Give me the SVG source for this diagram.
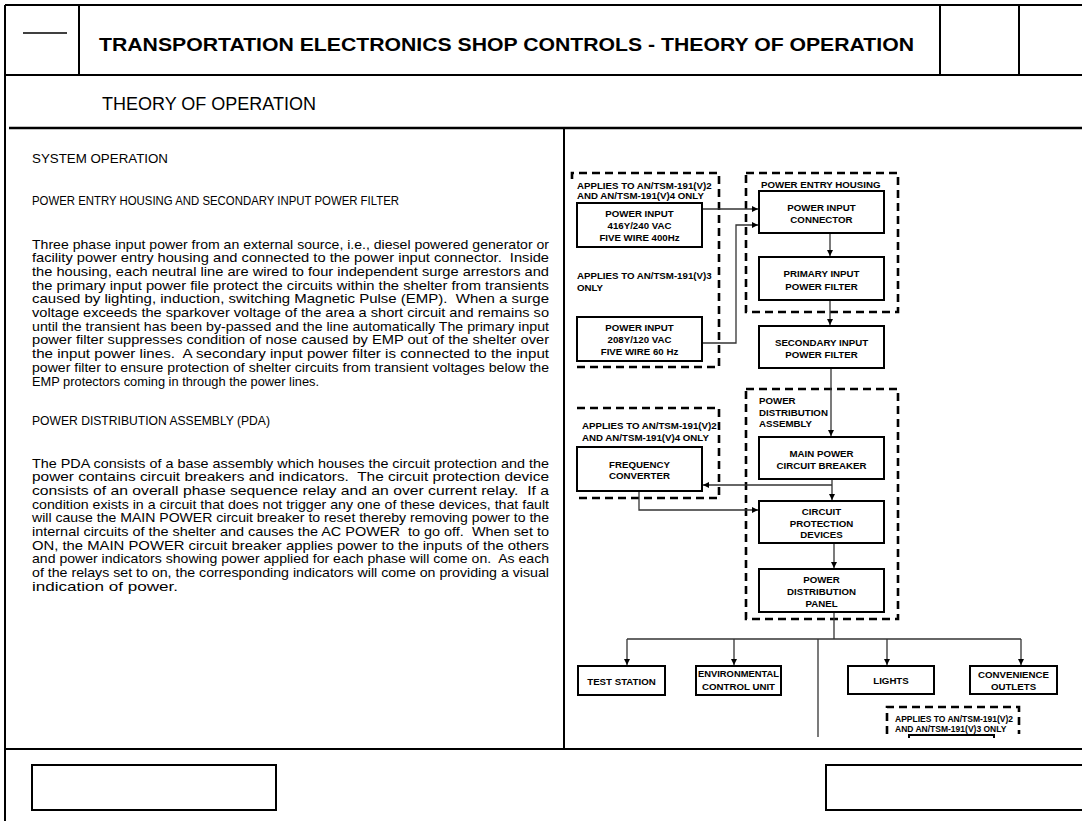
<svg xmlns="http://www.w3.org/2000/svg" width="1082" height="821" viewBox="0 0 1082 821">
<defs>
<style>
.frame{stroke:#000;stroke-width:2;fill:none}
.thin{stroke:#000;stroke-width:1.3;fill:none}
.dash{stroke:#000;stroke-width:2.6;fill:none;stroke-dasharray:8 5}
.box{stroke:#000;stroke-width:2;fill:#fff}
.conn{stroke:#333;stroke-width:1.3;fill:none}
.bt{font-family:"Liberation Sans",Arial,sans-serif;font-weight:bold;font-size:9.7px;fill:#000;text-anchor:middle}
.lab{font-family:"Liberation Sans",Arial,sans-serif;font-weight:bold;font-size:9.7px;fill:#000}
.lab2{font-family:"Liberation Sans",Arial,sans-serif;font-weight:bold;font-size:8.5px;fill:#000}
.body{font-family:"Liberation Sans",Arial,sans-serif;font-size:13.5px;fill:#000;white-space:pre}
.title{font-family:"Liberation Sans",Arial,sans-serif;font-weight:bold;font-size:18px;fill:#000}
.sub{font-family:"Liberation Sans",Arial,sans-serif;font-size:17.5px;fill:#000}
</style>
<marker id="ah" viewBox="0 0 10 10" refX="10" refY="5" markerWidth="6" markerHeight="6" markerUnits="userSpaceOnUse" orient="auto">
<path d="M0,0 L10,5 L0,10 z" fill="#000"/>
</marker>
</defs>
<rect width="1082" height="821" fill="#fff"/>

<g id="frame">
<line class="frame" x1="5" y1="5" x2="1082" y2="5"/>
<line class="frame" x1="5" y1="5" x2="5" y2="821"/>
<line class="frame" x1="79" y1="5" x2="79" y2="75"/>
<line class="frame" x1="940" y1="5" x2="940" y2="75"/>
<line class="frame" x1="1019" y1="5" x2="1019" y2="75"/>
<line class="frame" x1="5" y1="75" x2="1082" y2="75"/>
<line class="thin" x1="23" y1="33" x2="67" y2="33"/>
<line class="frame" x1="9" y1="128" x2="1082" y2="128" style="stroke-width:2.5"/>
<line class="frame" x1="564" y1="128" x2="564" y2="749"/>
<line class="frame" x1="5" y1="749" x2="1082" y2="749"/>
<rect class="frame" x="32" y="765" width="244" height="45"/>
<path class="frame" d="M1082,765 H826 V810 H1082"/>
<text class="title" x="99" y="50.5" textLength="815" lengthAdjust="spacingAndGlyphs">TRANSPORTATION ELECTRONICS SHOP CONTROLS - THEORY OF OPERATION</text>
<text class="sub" x="102" y="110" textLength="214" lengthAdjust="spacingAndGlyphs">THEORY OF OPERATION</text>
</g>

<g id="body-text">
<text class="body" x="32" y="162.5" textLength="136" lengthAdjust="spacingAndGlyphs">SYSTEM OPERATION</text>
<text class="body" x="32" y="204.5" textLength="367" lengthAdjust="spacingAndGlyphs">POWER ENTRY HOUSING AND SECONDARY INPUT POWER FILTER</text>
<text class="body" x="32" y="248.5" textLength="517" lengthAdjust="spacingAndGlyphs">Three phase input power from an external source, i.e., diesel powered generator or</text>
<text class="body" x="32" y="262.2" textLength="517" lengthAdjust="spacingAndGlyphs">facility power entry housing and connected to the power input connector.  Inside</text>
<text class="body" x="32" y="275.9" textLength="517" lengthAdjust="spacingAndGlyphs">the housing, each neutral line are wired to four independent surge arrestors and</text>
<text class="body" x="32" y="289.6" textLength="517" lengthAdjust="spacingAndGlyphs">the primary input power file protect the circuits within the shelter from transients</text>
<text class="body" x="32" y="303.3" textLength="517" lengthAdjust="spacingAndGlyphs">caused by lighting, induction, switching Magnetic Pulse (EMP).  When a surge</text>
<text class="body" x="32" y="317" textLength="517" lengthAdjust="spacingAndGlyphs">voltage exceeds the sparkover voltage of the area a short circuit and remains so</text>
<text class="body" x="32" y="330.7" textLength="517" lengthAdjust="spacingAndGlyphs">until the transient has been by-passed and the line automatically The primary input</text>
<text class="body" x="32" y="344.4" textLength="517" lengthAdjust="spacingAndGlyphs">power filter suppresses condition of nose caused by EMP out of the shelter over</text>
<text class="body" x="32" y="358.1" textLength="517" lengthAdjust="spacingAndGlyphs">the input power lines.  A secondary input power filter is connected to the input</text>
<text class="body" x="32" y="371.8" textLength="517" lengthAdjust="spacingAndGlyphs">power filter to ensure protection of shelter circuits from transient voltages below the</text>
<text class="body" x="32" y="385.5" textLength="287" lengthAdjust="spacingAndGlyphs">EMP protectors coming in through the power lines.</text>
<text class="body" x="32" y="424.5" textLength="238" lengthAdjust="spacingAndGlyphs">POWER DISTRIBUTION ASSEMBLY (PDA)</text>
<text class="body" x="32" y="467.5" textLength="517" lengthAdjust="spacingAndGlyphs">The PDA consists of a base assembly which houses the circuit protection and the</text>
<text class="body" x="32" y="481.2" textLength="517" lengthAdjust="spacingAndGlyphs">power contains circuit breakers and indicators.  The circuit protection device</text>
<text class="body" x="32" y="494.9" textLength="517" lengthAdjust="spacingAndGlyphs">consists of an overall phase sequence relay and an over current relay.  If a</text>
<text class="body" x="32" y="508.6" textLength="517" lengthAdjust="spacingAndGlyphs">condition exists in a circuit that does not trigger any one of these devices, that fault</text>
<text class="body" x="32" y="522.3" textLength="517" lengthAdjust="spacingAndGlyphs">will cause the MAIN POWER circuit breaker to reset thereby removing power to the</text>
<text class="body" x="32" y="536" textLength="517" lengthAdjust="spacingAndGlyphs">internal circuits of the shelter and causes the AC POWER  to go off.  When set to</text>
<text class="body" x="32" y="549.7" textLength="517" lengthAdjust="spacingAndGlyphs">ON, the MAIN POWER circuit breaker applies power to the inputs of the others</text>
<text class="body" x="32" y="563.4" textLength="517" lengthAdjust="spacingAndGlyphs">and power indicators showing power applied for each phase will come on.  As each</text>
<text class="body" x="32" y="577.1" textLength="517" lengthAdjust="spacingAndGlyphs">of the relays set to on, the corresponding indicators will come on providing a visual</text>
<text class="body" x="32" y="590.8" textLength="146" lengthAdjust="spacingAndGlyphs">indication of power.</text>
</g>

<g id="groups">
<g id="grp-applies-v2v4-input">
<path class="dash" d="M572,179 V173 H719 V367 H573"/>
<text class="lab" x="577" y="188.5">APPLIES TO AN/TSM-191(V)2</text>
<text class="lab" x="577" y="198.5">AND AN/TSM-191(V)4 ONLY</text>
<text class="lab" x="577" y="278.5">APPLIES TO AN/TSM-191(V)3</text>
<text class="lab" x="577" y="290.5">ONLY</text>
</g>
<g id="grp-power-entry-housing">
<rect class="dash" x="746" y="173" width="152" height="139"/>
<text class="lab" x="761" y="187.5">POWER ENTRY HOUSING</text>
</g>
<g id="grp-pda">
<rect class="dash" x="746" y="389" width="152" height="230"/>
<text class="lab" x="759" y="403.5">POWER</text>
<text class="lab" x="759" y="415.5">DISTRIBUTION</text>
<text class="lab" x="759" y="426.5">ASSEMBLY</text>
</g>
<g id="grp-applies-v2v4-fc">
<path class="dash" d="M577,408 H719 V498 H577"/>
<text class="lab" x="582" y="428.5">APPLIES TO AN/TSM-191(V)2</text>
<text class="lab" x="582" y="440.5">AND AN/TSM-191(V)4 ONLY</text>
</g>
<g id="grp-applies-v2v3">
<path class="dash" d="M887,734 V707 H1019 V734"/>
<text class="lab2" x="895" y="722">APPLIES TO AN/TSM-191(V)2</text>
<text class="lab2" x="895" y="732">AND AN/TSM-191(V)3 ONLY</text>
</g>
</g>

<g id="connectors">
<line class="conn" x1="702" y1="209" x2="758" y2="209" marker-end="url(#ah)"/>
<path class="conn" d="M702,343 H736 V225 H758" marker-end="url(#ah)"/>
<line class="conn" x1="830" y1="233" x2="830" y2="256" marker-end="url(#ah)"/>
<line class="conn" x1="830" y1="300" x2="830" y2="325" marker-end="url(#ah)"/>
<line class="conn" x1="831" y1="368" x2="831" y2="436" marker-end="url(#ah)"/>
<line class="conn" x1="832" y1="479" x2="832" y2="500" marker-end="url(#ah)"/>
<path class="conn" d="M832,485 H703" marker-end="url(#ah)"/>
<path class="conn" d="M639,491 V510 H758" marker-end="url(#ah)"/>
<line class="conn" x1="834" y1="543" x2="834" y2="568" marker-end="url(#ah)"/>
<line class="conn" x1="834" y1="612" x2="834" y2="639"/>
<line class="conn" x1="627" y1="639" x2="1021" y2="639"/>
<line class="conn" x1="627" y1="639" x2="627" y2="665" marker-end="url(#ah)"/>
<line class="conn" x1="734" y1="639" x2="734" y2="665" marker-end="url(#ah)"/>
<line class="conn" x1="887" y1="639" x2="887" y2="665" marker-end="url(#ah)"/>
<line class="conn" x1="1021" y1="639" x2="1021" y2="665" marker-end="url(#ah)"/>
<line class="conn" x1="818" y1="639" x2="818" y2="737"/>
</g>

<g id="node-power-input-400">
<rect class="box" x="577" y="203" width="125" height="44"/>
<text class="bt" x="639.5" y="216.5">POWER INPUT</text>
<text class="bt" x="639.5" y="228.5">416Y/240 VAC</text>
<text class="bt" x="639.5" y="240.5">FIVE WIRE 400Hz</text>
</g>
<g id="node-power-input-60">
<rect class="box" x="577" y="317" width="125" height="44"/>
<text class="bt" x="639.5" y="331">POWER INPUT</text>
<text class="bt" x="639.5" y="343">208Y/120 VAC</text>
<text class="bt" x="639.5" y="355">FIVE WIRE 60 Hz</text>
</g>
<g id="node-power-input-connector">
<rect class="box" x="759" y="191" width="125" height="42"/>
<text class="bt" x="821.5" y="210.5">POWER INPUT</text>
<text class="bt" x="821.5" y="222.5">CONNECTOR</text>
</g>
<g id="node-primary-filter">
<rect class="box" x="759" y="257" width="125" height="43"/>
<text class="bt" x="821.5" y="276.5">PRIMARY INPUT</text>
<text class="bt" x="821.5" y="289.5">POWER FILTER</text>
</g>
<g id="node-secondary-filter">
<rect class="box" x="759" y="326" width="125" height="42"/>
<text class="bt" x="821.5" y="345.5">SECONDARY INPUT</text>
<text class="bt" x="821.5" y="357.5">POWER FILTER</text>
</g>
<g id="node-main-power-cb">
<rect class="box" x="759" y="437" width="125" height="42"/>
<text class="bt" x="821.5" y="456.5">MAIN POWER</text>
<text class="bt" x="821.5" y="468.5">CIRCUIT BREAKER</text>
</g>
<g id="node-frequency-converter">
<rect class="box" x="577" y="447" width="125" height="44"/>
<text class="bt" x="639.5" y="467.5">FREQUENCY</text>
<text class="bt" x="639.5" y="478.5">CONVERTER</text>
</g>
<g id="node-circuit-protection">
<rect class="box" x="759" y="501" width="125" height="42"/>
<text class="bt" x="821.5" y="514.5">CIRCUIT</text>
<text class="bt" x="821.5" y="526.5">PROTECTION</text>
<text class="bt" x="821.5" y="537.5">DEVICES</text>
</g>
<g id="node-distribution-panel">
<rect class="box" x="759" y="569" width="125" height="43"/>
<text class="bt" x="821.5" y="582.5">POWER</text>
<text class="bt" x="821.5" y="594.5">DISTRIBUTION</text>
<text class="bt" x="821.5" y="606.5">PANEL</text>
</g>
<g id="node-test-station">
<rect class="box" x="578" y="666" width="87" height="29"/>
<text class="bt" x="621.5" y="684.5">TEST STATION</text>
</g>
<g id="node-environmental">
<rect class="box" x="696" y="666" width="85" height="29"/>
<text class="bt" x="738.5" y="677" textLength="81" lengthAdjust="spacingAndGlyphs">ENVIRONMENTAL</text>
<text class="bt" x="738.5" y="689.5">CONTROL UNIT</text>
</g>
<g id="node-lights">
<rect class="box" x="848" y="666" width="86" height="28"/>
<text class="bt" x="891" y="683.5">LIGHTS</text>
</g>
<g id="node-convenience">
<rect class="box" x="970" y="666" width="87" height="28"/>
<text class="bt" x="1013.5" y="677.5">CONVENIENCE</text>
<text class="bt" x="1013.5" y="689.5">OUTLETS</text>
</g>
<g id="node-clipped">
<path class="box" d="M909,738 V735 H994 V738" style="fill:none"/>
</g>
</svg>
